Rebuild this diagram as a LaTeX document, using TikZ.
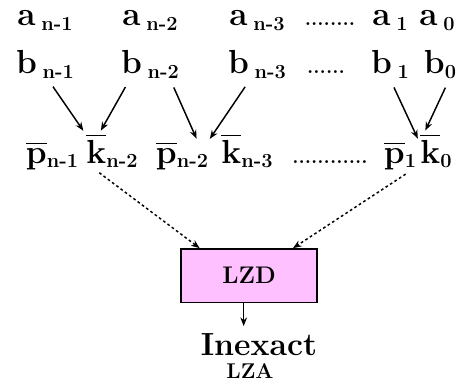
\documentclass[tikz,border=0pt]{standalone}
\usepackage{amsmath}
\usetikzlibrary{arrows.meta, positioning}
\definecolor{lzdpink}{RGB}{255,192,255}
\newcommand\idx[1]{\raisebox{-3.5pt}{\fontsize{15}{15}\selectfont #1}}
\newcommand\barred[1]{$\overline{\mbox{#1}}$}

\begin{document}
\begin{tikzpicture}[x=0.75pt, y=-0.75pt,
    term/.style={font=\fontsize{25}{27}\selectfont\bfseries, inner sep=0pt, anchor=base},
    dots/.style={font=\fontsize{15}{15}\selectfont\bfseries, inner sep=0pt, anchor=base},
    box/.style={rectangle, draw, fill=lzdpink, line width=1pt, minimum width=102pt,
                minimum height=40pt, font=\fontsize{18}{18}\selectfont\bfseries},
    arrow/.style={-{Stealth[length=6.5pt, width=5pt]}, line width=1.1pt},
    dotarrow/.style={arrow, dash pattern=on 2pt off 2pt}
]
    \useasboundingbox (0,0) rectangle (468,385);
    % operand rows
    \node[term] (an1) at (45,26) {a\,\idx{n-1}};
    \node[term] (an2) at (150,26) {a\,\idx{n-2}};
    \node[term] (an3) at (257,26) {a\,\idx{n-3}};
    \node[dots] (adots) at (330,26) {........};
    \node[term] (a1) at (390,26) {a\,\idx{1}};
    \node[term] (a0) at (437,26) {a\,\idx{0}};
    \node[term] (bn1) at (45,74) {b\,\idx{n-1}};
    \node[term] (bn2) at (150,74) {b\,\idx{n-2}};
    \node[term] (bn3) at (257,74) {b\,\idx{n-3}};
    \node[dots] (bdots) at (326,74) {......};
    \node[term] (b1) at (390,74) {b\,\idx{1}};
    \node[term] (b0) at (440,74) {b\idx{0}};
    % pre-encoded bits
    \node[term] (pn1) at (52,163) {\barred{p}\idx{n-1}};
    \node[term] (kn2) at (112,163) {\barred{k}\idx{n-2}};
    \node[term] (pn2) at (182,163) {\barred{p}\idx{n-2}};
    \node[term] (kn3) at (247,163) {\barred{k}\idx{n-3}};
    \node[dots] (pdots) at (330,163) {............};
    \node[term] (p1) at (400,163) {\barred{p}\idx{1}};
    \node[term] (k0) at (436,163) {\barred{k}\idx{0}};
    % detector and output
    \node[box] (lzd) at (249,275.5) {LZD};
    \node[term, font=\fontsize{24}{26}\selectfont\bfseries] (inexact) at (259,355) {Inexact};
    \node[font=\fontsize{16}{16}\selectfont\bfseries, inner sep=0pt, anchor=base] (lza) at (250,378) {LZA};

    \draw[arrow, shorten <=7pt, shorten >=2pt] ([xshift=2]bn1.south) -- ([xshift=-1]kn2.north west);
    \draw[arrow, shorten <=7pt, shorten >=2pt] ([xshift=-15]bn2.south) -- ([xshift=10]kn2.north west);
    \draw[arrow, shorten <=7pt, shorten >=2pt] ([xshift=15]bn2.south) -- ([xshift=-8]pn2.north east);
    \draw[arrow, shorten <=7pt, shorten >=2pt] ([xshift=-5]bn3.south) -- (pn2.north east);
    \draw[arrow, shorten <=7pt, shorten >=2pt] (b1.south) -- ([xshift=2]p1.north east);
    \draw[arrow, shorten <=7pt, shorten >=2pt] ([xshift=7]b0.south) -- ([xshift=3]k0.north west);
    \draw[dotarrow, shorten <=6pt] ([xshift=5]kn2.south west) -- ([xshift=-37]lzd.north);
    \draw[dotarrow, shorten <=6pt] ([xshift=-3]p1.south east) -- ([xshift=33]lzd.north);
    \draw[arrow, shorten >=5pt] ([xshift=-4]lzd.south) -- ([xshift=-4]lzd.south |- inexact.north);
\end{tikzpicture}
\end{document}
